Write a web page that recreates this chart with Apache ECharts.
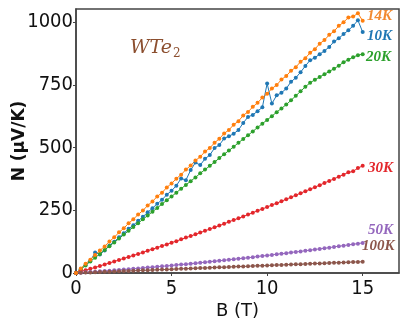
<!DOCTYPE html>
<html>
<head>
<meta charset="utf-8">
<script src="https://cdn.jsdelivr.net/npm/echarts@6/dist/echarts.min.js"></script>
<style>
  html, body { margin: 0; padding: 0; background: #fff; }
  #main { width: 400px; height: 327px; }
</style>
</head>
<body>
<div id="main"></div>
<script>
// magnetic field B (T), 0 .. 15 every 0.25 T
var fieldB = [0,0.25,0.5,0.75,1,1.25,1.5,1.75,2,2.25,2.5,2.75,3,3.25,3.5,3.75,4,4.25,4.5,4.75,
  5,5.25,5.5,5.75,6,6.25,6.5,6.75,7,7.25,7.5,7.75,8,8.25,8.5,8.75,9,9.25,9.5,9.75,
  10,10.25,10.5,10.75,11,11.25,11.5,11.75,12,12.25,12.5,12.75,13,13.25,13.5,13.75,14,14.25,14.5,14.75,15];

// Nernst signal N (uV/K) for each temperature
var n14K = [0,18,37,53,72,90,106,126,142,162,178,198,214,233,249,269,285,305,320,341,
  357,376,392,412,428,448,463,484,498,519,535,556,570,591,605,628,642,662,678,699,
  714,735,749,771,785,806,820,842,856,878,892,914,928,949,963,985,999,1018,1022,1035,1005];
var n10K = [0,14,32,48,82,74,90,110,125,142,158,176,190,208,224,242,258,276,292,312,
  328,348,377,370,410,440,430,455,470,498,510,536,545,555,570,598,622,630,645,660,
  755,675,708,718,735,762,778,800,825,848,858,872,885,901,922,935,952,967,985,1007,960];
var n20K = [0,15,30,46,61,76,92,107,122,137,153,168,183,198,214,229,244,259,275,290,
  305,320,336,351,366,381,397,412,427,442,458,473,488,503,519,534,549,564,580,595,
  610,625,641,656,671,688,706,724,742,758,770,781,792,803,814,826,840,850,860,868,872];
var n30K = [0,6,11,17,22,28,34,40,46,52,58,64,70,76,82,89,95,101,108,114,
  121,127,134,141,147,154,161,168,175,182,189,196,204,211,218,225,233,240,248,255,
  263,271,278,286,294,302,310,318,326,334,342,350,359,367,375,384,392,401,405,418,427];
var n50K = [0,1,3,4,5,7,8,9,11,12,14,15,17,18,20,22,23,25,27,28,
  30,32,34,35,37,39,41,43,45,47,49,51,53,55,57,59,61,63,66,68,
  70,72,75,77,79,82,84,86,89,91,94,96,99,101,104,107,109,112,115,117,120];
var n100K = [0,1,2,2,3,4,5,5,6,7,8,8,9,10,11,11,12,13,14,14,
  15,16,17,17,18,19,20,20,21,22,23,23,24,25,26,26,27,28,29,29,
  30,31,32,32,33,34,35,35,36,37,38,38,39,40,41,41,42,43,44,44,45];

var tempNames = ['10K', '20K', '30K', '50K', '100K', '14K'];
var tempData = [n10K, n20K, n30K, n50K, n100K, n14K];
var tempColors = ['#1f77b4', '#2ca02c', '#e3262b', '#9467bd', '#8c564b', '#ff7f0e'];

// label text on the right side: [name, colour, x, y]
var tempLabels = [
  ['14K', '#f28a30', 367, 17],
  ['10K', '#1f77b4', 367, 37],
  ['20K', '#2ca02c', 366, 58],
  ['30K', '#e3262b', 368, 169],
  ['50K', '#9467bd', 368, 231],
  ['100K', '#8c564b', 362, 247]
];

function pairs(ys) {
  var out = [];
  for (var i = 0; i < fieldB.length; i++) {
    out.push([fieldB[i], ys[i]]);
  }
  return out;
}

var myChart = echarts.init(document.getElementById('main'));

var seriesList = [];
for (var s = 0; s < tempNames.length; s++) {
  seriesList.push({
    name: tempNames[s],
    type: 'line',
    data: pairs(tempData[s]),
    symbol: 'circle',
    symbolSize: 4,
    showAllSymbol: true,
    itemStyle: { color: tempColors[s] },
    lineStyle: { color: tempColors[s], width: 1 },
    animation: false
  });
}

var graphics = [];
for (var k = 0; k < tempLabels.length; k++) {
  graphics.push({
    type: 'text',
    left: tempLabels[k][2],
    top: tempLabels[k][3] - 8,
    style: {
      text: tempLabels[k][0],
      fill: tempLabels[k][1],
      font: 'italic bold 15px "Liberation Serif", serif'
    }
  });
}
// the sample name
graphics.push({
  type: 'text',
  left: 130,
  top: 39,
  style: {
    text: '{a|WTe}{b|2}',
    rich: {
      a: { fontFamily: 'DejaVu Serif', fontStyle: 'italic', fontSize: 19, fill: '#8c4f2f', color: '#8c4f2f' },
      b: { fontFamily: 'DejaVu Serif', fontSize: 12, fill: '#8c4f2f', color: '#8c4f2f', padding: [10, 0, 0, 1] }
    }
  }
});

var tickFont = "'Liberation Sans Narrow', 'DejaVu Sans Condensed', sans-serif";

var options = {
  backgroundColor: '#fff',
  grid: {
    left: 76, right: 1, top: 9, bottom: 54,
    containLabel: false,
    outerBoundsMode: 'none',
    show: true,
    borderColor: '#444',
    borderWidth: 1.5
  },
  xAxis: {
    type: 'value',
    min: 0,
    max: 16.9,
    interval: 5,
    name: 'B (T)',
    nameLocation: 'middle',
    nameGap: 29,
    nameMoveOverlap: false,
    nameTextStyle: { fontFamily: 'DejaVu Sans', fontSize: 18, color: '#111' },
    axisLine: { show: true, lineStyle: { color: '#444', width: 1.5 } },
    axisTick: { show: true, inside: false, length: 3, lineStyle: { color: '#444' } },
    axisLabel: {
      showMaxLabel: false,
      margin: 6,
      fontFamily: tickFont,
      fontSize: 20,
      color: '#111',
      formatter: function (v) { return String(v); }
    },
    splitLine: { show: false }
  },
  yAxis: {
    type: 'value',
    min: 0,
    max: 1052,
    interval: 250,
    name: 'N (μV/K)',
    nameLocation: 'middle',
    nameRotate: 90,
    nameGap: 48,
    nameMoveOverlap: false,
    nameTextStyle: { fontFamily: 'DejaVu Sans', fontWeight: 'bold', fontSize: 17, color: '#111' },
    axisLine: { show: true, lineStyle: { color: '#444', width: 1.5 } },
    axisTick: { show: true, inside: false, length: 3, lineStyle: { color: '#444' } },
    axisLabel: {
      showMaxLabel: false,
      margin: 3,
      fontFamily: tickFont,
      fontSize: 20,
      color: '#111',
      formatter: function (v) { return String(v); }
    },
    splitLine: { show: false }
  },
  graphic: graphics,
  series: seriesList
};

myChart.setOption(options);
</script>
</body>
</html>
